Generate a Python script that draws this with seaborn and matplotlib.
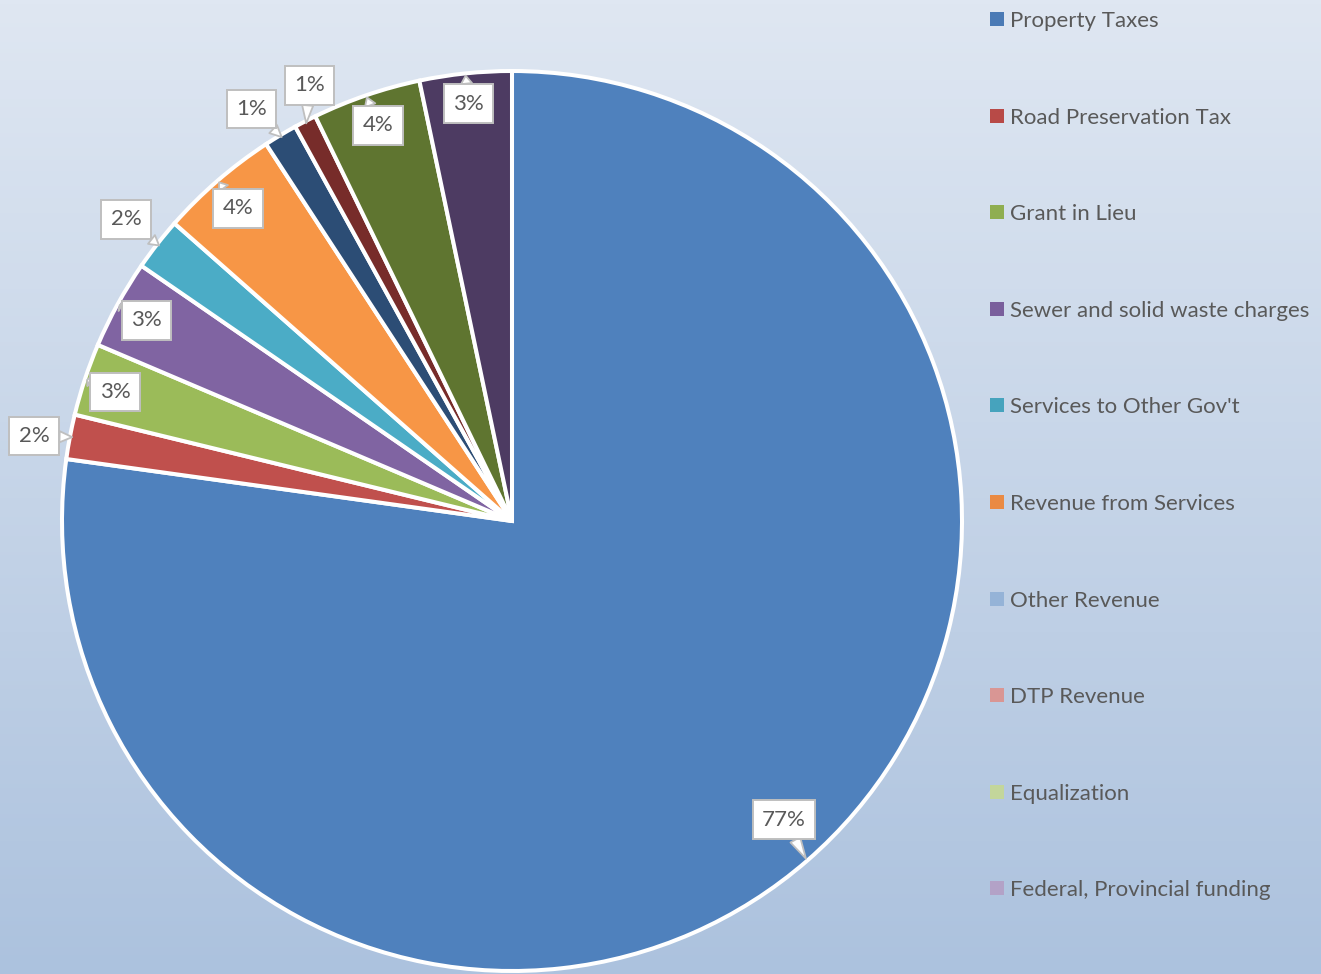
import numpy as np
import matplotlib
matplotlib.use("Agg")
import matplotlib.pyplot as plt
from matplotlib.patches import Rectangle
import seaborn as sns

# ---- data ----
categories = ["Property Taxes", "Road Preservation Tax", "Grant in Lieu",
              "Sewer and solid waste charges", "Services to Other Gov't",
              "Revenue from Services", "Other Revenue", "DTP Revenue",
              "Equalization", "Federal, Provincial funding"]
shares = [77.2, 1.6, 2.6, 3.2, 1.9, 4.3, 1.2, 0.8, 3.9, 3.3]
slice_colors = ["#4f81bd", "#c0504d", "#9bbb59", "#8064a2", "#4bacc6",
                "#f79646", "#2c4d75", "#772c2a", "#5f7530", "#4d3b62"]
legend_colors = ["#4a7ab5", "#b84a47", "#8fae50", "#7a5f9c", "#46a3bd",
                 "#ea8a43", "#95b3d7", "#d99694", "#c3d69b", "#b3a2c7"]

sns.set_theme(style="white")
plt.rcParams["font.family"] = ["Lato", "DejaVu Sans"]

W, H = 1321, 974
fig = plt.figure(figsize=(W / 100, H / 100), dpi=100)

# background gradient
bg = fig.add_axes([0, 0, 1, 1], zorder=0)
top = np.array([223, 231, 242]) / 255
bot = np.array([172, 194, 222]) / 255
t = np.linspace(0, 1, 256)[:, None]
grad = top[None, :] * (1 - t) + bot[None, :] * t
bg.imshow(grad[:, None, :], aspect="auto", extent=[0, 1, 0, 1])
bg.set_axis_off()

# pie axes: radius 1 == 450 px, center at (512, 521) px
R = 450
cx, cy = 512, 521
half = 500
ax = fig.add_axes([(cx - half) / W, (H - cy - half) / H, 2 * half / W, 2 * half / H], zorder=1)
ax.set_facecolor("none")
wedges, _ = ax.pie(shares, colors=slice_colors, startangle=90, counterclock=False,
                   wedgeprops=dict(edgecolor="white", linewidth=2.9), radius=1.0)
ax.set_xlim(-half / R, half / R)
ax.set_ylim(-half / R, half / R)
ax.set_aspect("equal")
ax.set_axis_off()
for w in wedges:
    w.set_clip_on(False)

# data label offsets (box centre relative to callout tip, in px; image y downwards)
label_offsets = [(-22, -39), (-38, -1), (28, 12), (27, 15), (-33, -26),
                 (19, 26), (-30, -28), (3, -38), (11, 28), (3, 28)]
total = sum(shares)
for w, v, (dx, dy) in zip(wedges, shares, label_offsets):
    th = np.deg2rad((w.theta1 + w.theta2) / 2)
    tip = (0.995 * np.cos(th), 0.995 * np.sin(th))
    ax.annotate(f"{100 * v / total:.0f}%", xy=tip, xytext=(dx * 0.72, -dy * 0.72),
                textcoords="offset points", ha="center", va="center",
                fontsize=16, color="#595959", zorder=5,
                bbox=dict(boxstyle="square,pad=0.42", fc="white", ec="#bfbfbf", lw=1.4),
                arrowprops=dict(arrowstyle="wedge,tail_width=0.5", fc="white",
                                ec="#bfbfbf", lw=1.3, shrinkA=0, shrinkB=0),
                annotation_clip=False)

# legend
y0, step = 19, 96.6
for i, (name, col) in enumerate(zip(categories, legend_colors)):
    yc = y0 + i * step
    fig.patches.append(Rectangle((990 / W, (H - yc - 7) / H), 14 / W, 14 / H,
                                 transform=fig.transFigure, fc=col, ec="none", zorder=3))
    fig.text(1010 / W, (H - yc) / H, name, ha="left", va="center_baseline",
             fontsize=16, color="#595959", zorder=3)

fig.savefig("out.png", dpi=100)
